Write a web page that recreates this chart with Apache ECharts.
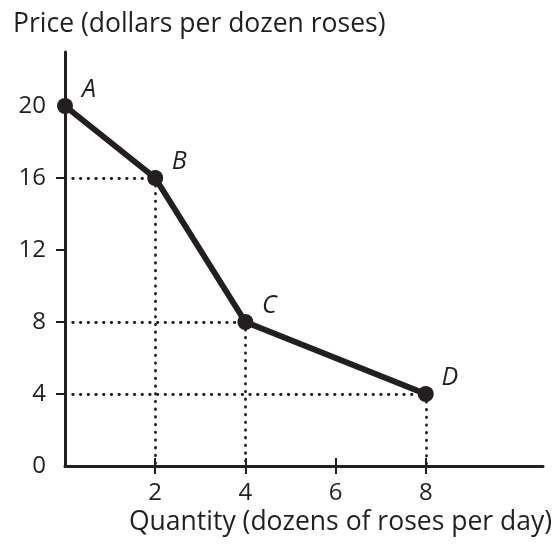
<!DOCTYPE html>
<html>
<head>
<meta charset="utf-8">
<script src="https://cdn.jsdelivr.net/npm/echarts@6/dist/echarts.min.js"></script>
<style>
  html, body { margin: 0; padding: 0; background: #fff; }
  #chart { width: 555px; height: 548px; }
</style>
</head>
<body>
<div id="chart"></div>
<script>
// data
const pointNames = ["A", "B", "C", "D"];
const quantity = [0, 2, 4, 8];
const price = [20, 16, 8, 4];
const xTickValues = [2, 4, 6, 8];
const yLabelValues = [0, 4, 8, 12, 16, 20];
const yTickValues = [4, 8, 12, 16];

const ink = "#231f20";
const font = "Open Sans";

// dotted guide lines from each point (except A) to both axes
const guides = [];
for (let i = 1; i < quantity.length; i++) {
  guides.push([{ coord: [0, price[i]] }, { coord: [quantity[i], price[i]] }]);
  guides.push([{ coord: [quantity[i], price[i]] }, { coord: [quantity[i], 0] }]);
}

const chart = echarts.init(document.getElementById("chart"));
const option = {
  animation: false,
  title: [
    {
      text: "Price (dollars per dozen roses)",
      left: 8,
      top: 6,
      textStyle: { fontFamily: font, fontSize: 26.5, fontWeight: "normal", color: ink },
    },
  ],
  grid: { left: 65, right: 10, top: 52, bottom: 82 },
  xAxis: [
    {
      type: "value",
      position: "bottom",
      min: 0,
      max: 10.6,
      splitLine: { show: false },
      axisLine: { show: true, lineStyle: { color: ink, width: 3 } },
      axisTick: { show: true, customValues: xTickValues, length: 8, lineStyle: { color: ink, width: 2 } },
      axisLabel: {
        customValues: xTickValues,
        margin: 15,
        fontFamily: font,
        fontSize: 24,
        color: ink,
      },
      name: "Quantity (dozens of roses per day)",
      nameLocation: "end",
      nameGap: 9,
      nameTextStyle: {
        fontFamily: font,
        fontSize: 26.5,
        color: ink,
        align: "right",
        verticalAlign: "top",
        padding: [43, 0, 0, 0],
      },
    },
    {
      type: "value",
      position: "bottom",
      min: 0,
      max: 10.6,
      splitLine: { show: false },
      axisLine: { show: false },
      axisTick: { show: true, inside: true, customValues: xTickValues, length: 8, lineStyle: { color: ink, width: 2 } },
      axisLabel: { show: false },
    },
  ],
  yAxis: {
    type: "value",
    min: 0,
    max: 23,
    splitLine: { show: false },
    axisLine: { show: true, lineStyle: { color: ink, width: 3 } },
    axisTick: { show: true, customValues: yTickValues, length: 9, lineStyle: { color: ink, width: 2 } },
    axisLabel: {
      customValues: yLabelValues,
      margin: 19,
      fontFamily: font,
      fontSize: 24,
      color: ink,
    },
  },
  series: [
    {
      type: "line",
      xAxisIndex: 0,
      data: quantity.map((q, i) => ({ value: [q, price[i]], name: pointNames[i] })),
      symbol: "circle",
      symbolSize: 16,
      lineStyle: { color: ink, width: 6 },
      itemStyle: { color: ink },
      label: {
        show: true,
        formatter: (p) => p.name,
        position: "inside",
        offset: [24, -16],
        fontFamily: font,
        fontStyle: "italic",
        fontSize: 25,
        color: ink,
      },
      markLine: {
        silent: true,
        symbol: "none",
        label: { show: false },
        lineStyle: { color: ink, width: 2.8, type: [0.5, 7.2], cap: "round" },
        data: guides,
      },
      z: 3,
    },
  ],
};
chart.setOption(option);
</script>
</body>
</html>
